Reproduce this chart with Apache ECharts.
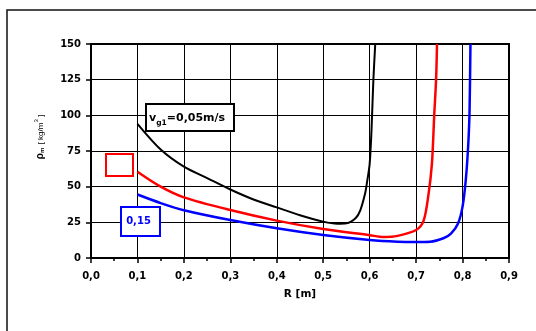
<!DOCTYPE html>
<html><head><meta charset="utf-8">
<script src="https://cdn.jsdelivr.net/npm/echarts@6/dist/echarts.min.js"></script>
<style>html,body{margin:0;padding:0;background:#fff}#c{width:536px;height:331px}</style>
</head><body><div id="c"></div>
<script>
const blackR = [0.10,0.15,0.20,0.25,0.30,0.35,0.40,0.45,0.50,0.53,0.55,0.57,0.58,0.59,0.594,0.600,0.604,0.608,0.612];
const blackV = [94,76,64,56,48,41,35.5,30,25.5,24,24.3,28,33.6,45,52.5,66,90,125,150];
const redR = [0.10,0.15,0.20,0.30,0.40,0.50,0.60,0.63,0.66,0.70,0.716,0.726,0.734,0.739,0.743,0.745];
const redV = [60.5,50,42.5,33.6,26.2,20.3,16,14.7,15.5,19.6,26,43,66,100,125,150];
const blueR = [0.10,0.15,0.20,0.30,0.40,0.50,0.60,0.66,0.70,0.73,0.76,0.775,0.79,0.80,0.807,0.812,0.815,0.817];
const blueV = [44.5,38.5,33.5,26.6,20.8,16.1,12.6,11.4,11.2,11.4,14,17,24,36,55,78,102,150];
const xTicks = ['0,0','0,1','0,2','0,3','0,4','0,5','0,6','0,7','0,8','0,9'];
const yTicks = ['0','25','50','75','100','125','150'];

const pair = (xs, ys) => xs.map((x, i) => [x, ys[i]]);
const F = '"Liberation Sans", Arial, sans-serif';
const D = '"DejaVu Sans", sans-serif';
const chart = echarts.init(document.getElementById('c'));
const mk = (name, xs, ys, color, w) => ({
  name, type: 'line', data: pair(xs, ys), showSymbol: false, smooth: 0.3,
  lineStyle: { color, width: w }, z: 5, animation: false
});
chart.setOption({
  animation: false,
  grid: { left: 91, right: 27, top: 44, bottom: 73, show: true, borderColor: '#000', borderWidth: 2 },
  xAxis: {
    type: 'value', min: 0, max: 0.9, interval: 0.1,
    axisLine: { show: true, lineStyle: { color: '#000', width: 2 } },
    axisTick: { show: true, length: 5, lineStyle: { color: '#000', width: 1.5 } },
    minorTick: { show: true, splitNumber: 2, length: 3, lineStyle: { color: '#000', width: 1.5 } },
    splitLine: { show: true, lineStyle: { color: '#000', width: 1 } },
    axisLabel: { color: '#000', fontFamily: D, fontWeight: 'bold', fontSize: 10, margin: 13,
      formatter: v => xTicks[Math.round(v * 10)] },
    name: 'R [m]', nameLocation: 'middle', nameGap: 31,
    nameTextStyle: { color: '#000', fontFamily: D, fontWeight: 'bold', fontSize: 10.5 }
  },
  yAxis: {
    type: 'value', min: 0, max: 150, interval: 25,
    axisLine: { show: true, lineStyle: { color: '#000', width: 2 } },
    axisTick: { show: true, length: 5, lineStyle: { color: '#000', width: 1.5 } },
    splitLine: { show: true, lineStyle: { color: '#000', width: 1 } },
    axisLabel: { color: '#000', fontFamily: D, fontWeight: 'bold', fontSize: 10, margin: 10,
      formatter: v => yTicks[Math.round(v / 25)] }
  },
  series: [
    mk('0,05', blackR, blackV, '#000', 2),
    mk('0,10', redR, redV, '#ff0000', 2.5),
    mk('0,15', blueR, blueV, '#0000ff', 2.5)
  ],
  graphic: [
    { type: 'rect', shape: { x: 7, y: 10, width: 600, height: 400 }, style: { fill: 'none', stroke: '#111', lineWidth: 1.5 }, z: 0 },
    { type: 'rect', shape: { x: 146, y: 104, width: 88, height: 27 }, style: { fill: '#fff', stroke: '#000', lineWidth: 2 }, z: 10 },
    { type: 'text', x: 149, y: 108, z: 11, style: {
      text: '{a|v}{b|g1}{a|=0,05m/s}',
      rich: { a: { fontFamily: D, fontWeight: 'bold', fontSize: 11, fill: '#000', lineHeight: 16, verticalAlign: 'bottom' },
              b: { fontFamily: D, fontWeight: 'bold', fontSize: 7.5, fill: '#000', lineHeight: 16, verticalAlign: 'bottom', padding: [0, 0, -3, 0] } } } },
    { type: 'rect', shape: { x: 106, y: 154, width: 27, height: 22 }, style: { fill: '#fff', stroke: '#ff0000', lineWidth: 2 }, z: 10 },
    { type: 'rect', shape: { x: 121, y: 207, width: 39, height: 29 }, style: { fill: '#fff', stroke: '#0000ff', lineWidth: 2 }, z: 10 },
    { type: 'text', x: 138.5, y: 221.5, z: 11, style: { text: '0,15', fill: '#0000ff', fontFamily: D, fontWeight: 'bold', fontSize: 10, align: 'center', verticalAlign: 'middle' } },
    { type: 'text', x: 39, y: 137, rotation: Math.PI / 2, z: 11, style: {
      text: '{r|ρ}{s|m} {n|[ kg/m}{p|3}{n| ]}', align: 'center', verticalAlign: 'middle',
      rich: { r: { fontFamily: F, fontWeight: 'bold', fontSize: 10, fill: '#000', lineHeight: 12, verticalAlign: 'bottom' },
              s: { fontFamily: F, fontWeight: 'bold', fontSize: 6, fill: '#000', lineHeight: 12, verticalAlign: 'bottom' },
              n: { fontFamily: F, fontSize: 8, fill: '#000', lineHeight: 12, verticalAlign: 'bottom' },
              p: { fontFamily: F, fontSize: 6, fill: '#000', lineHeight: 12, verticalAlign: 'top' } } } }
  ]
});
</script></body></html>
